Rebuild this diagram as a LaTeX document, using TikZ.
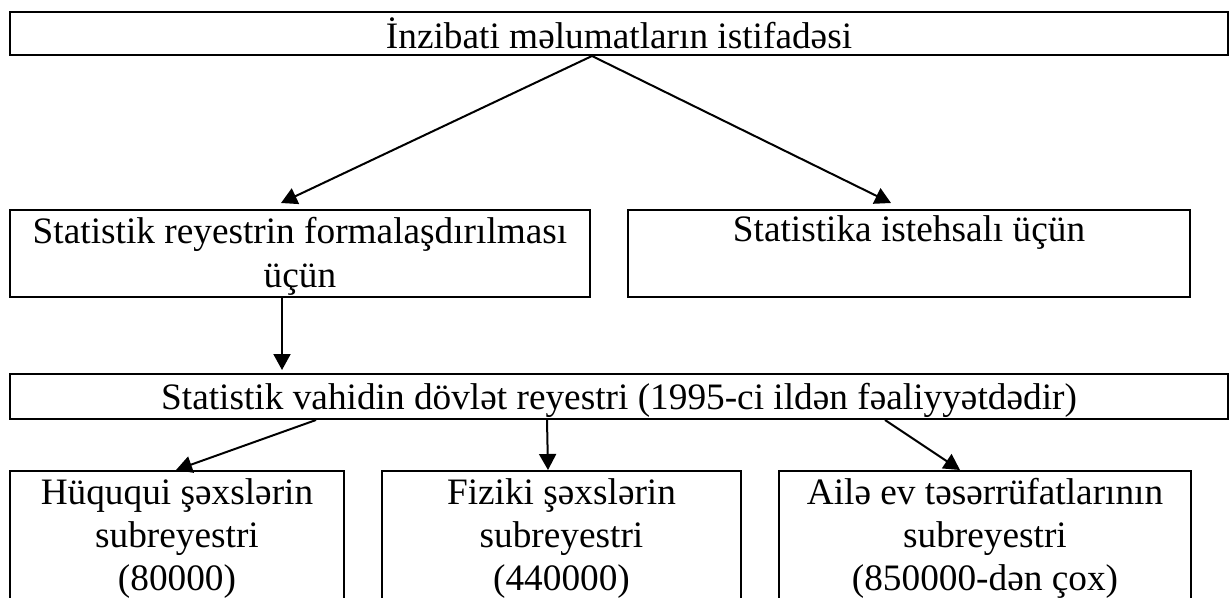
\documentclass[tikz,border=0pt]{standalone}
\usepackage{fontspec}
\setmainfont{Liberation Serif}
\usetikzlibrary{arrows.meta}
\tikzset{
  box/.style={draw=black, line width=2pt, rectangle, inner sep=0pt},
  txt/.style={inner sep=0pt, align=center, font=\fontsize{37.3}{44}\selectfont, anchor=base},
  txtb/.style={txt, font=\fontsize{37.3}{43}\selectfont},
  arr/.style={draw=black, line width=2pt, -{Triangle[length=16pt,width=17pt]}}
}
\begin{document}
\begin{tikzpicture}[x=1pt,y=-1pt]
\path[use as bounding box] (0,0) rectangle (1230,597);
\clip (0,0) rectangle (1230,597);
% boxes
\node[box, minimum width=1218pt, minimum height=43pt] (top) at (619,33.5) {};
\node[box, minimum width=580pt, minimum height=87pt] (b2l) at (300,253.5) {};
\node[box, minimum width=562pt, minimum height=87pt] (b2r) at (909,253.5) {};
\node[box, minimum width=1218pt, minimum height=45pt] (b3) at (619,396.5) {};
\node[box, minimum width=334pt, minimum height=179pt] (b4l) at (177,560.5) {};
\node[box, minimum width=359pt, minimum height=179pt] (b4m) at (561.5,560.5) {};
\node[box, minimum width=412pt, minimum height=179pt] (b4r) at (985,560.5) {};
% texts (anchor base = baseline of the last line)
\node[txt] (t1) at (619,48) {İnzibati məlumatların istifadəsi};
\node[txt] (t2l) at (300,287) {Statistik reyestrin formalaşdırılması\\üçün};
\node[txt] (t2r) at (909,241) {Statistika istehsalı üçün};
\node[txt] (t3) at (619,409) {Statistik vahidin dövlət reyestri (1995-ci ildən fəaliyyətdədir)};
\node[txtb] (t4l) at (177,590) {Hüququi şəxslərin\\subreyestri\\(80000)};
\node[txtb] (t4m) at (561.5,590) {Fiziki şəxslərin\\subreyestri\\(440000)};
\node[txtb] (t4r) at (985,590) {Ailə ev təsərrüfatlarının\\subreyestri\\(850000-dən çox)};
% connectors
\draw[arr] ([xshift=-27pt]top.south) -- ([xshift=-19pt,yshift=6pt]b2l.north);
\draw[arr] ([xshift=-27pt]top.south) -- ([xshift=-18pt,yshift=6pt]b2r.north);
\draw[arr] ([xshift=-18pt]b2l.south) -- ([xshift=-337pt,yshift=3pt]b3.north);
\draw[arr] ([xshift=-303pt]b3.south) -- ([xshift=-1pt]b4l.north);
\draw[arr] ([xshift=-72pt]b3.south) -- ([xshift=-13.5pt]b4m.north);
\draw[arr] ([xshift=266pt]b3.south) -- ([xshift=-25pt]b4r.north);
\end{tikzpicture}
\end{document}
